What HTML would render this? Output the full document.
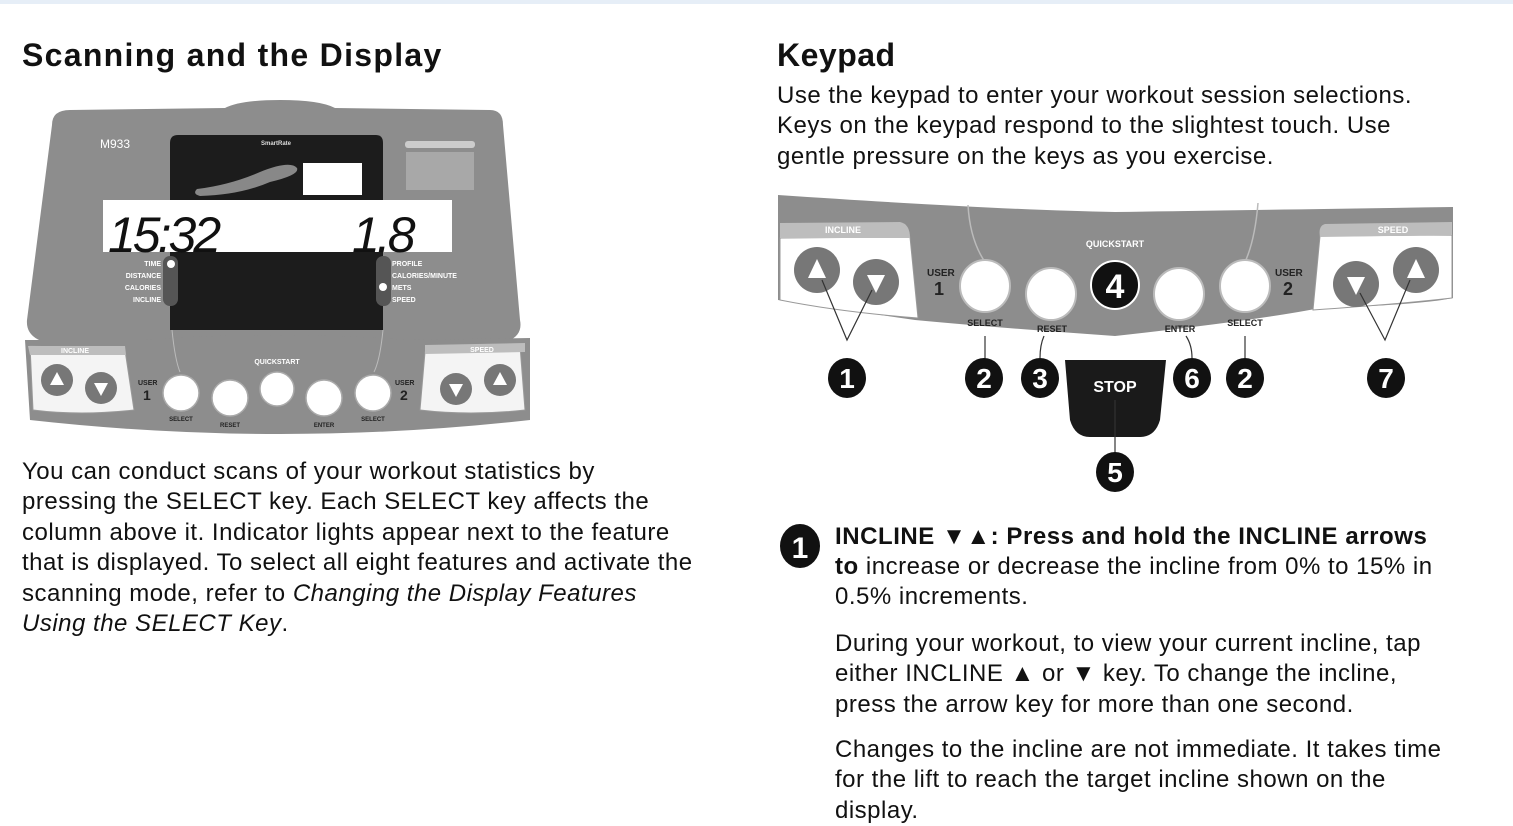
<!DOCTYPE html>
<html><head><meta charset="utf-8"><style>
*{margin:0;padding:0}
body{width:1513px;height:824px;background:#fff;position:relative;overflow:hidden;font-family:"Liberation Sans",sans-serif;color:#111}
.topbar{position:absolute;left:0;top:0;width:1513px;height:4px;background:#e6eef7}
h1{position:absolute;font-size:32px;font-weight:bold;letter-spacing:1.3px;line-height:36px}
.p{position:absolute;font-size:24px;line-height:30.4px;letter-spacing:0.5px;white-space:nowrap}
svg{position:absolute;left:0;top:0}
</style></head><body>
<div class="topbar"></div>
<h1 style="left:22px;top:37px">Scanning and the Display</h1>
<h1 style="left:777px;top:37px;letter-spacing:0.5px">Keypad</h1>
<div class="p" style="left:777px;top:81px">Use the keypad to enter your workout session selections.<br>Keys on the keypad respond to the slightest touch. Use<br>gentle pressure on the keys as you exercise.</div>
<div class="p" style="left:22px;top:457px">You can conduct scans of your workout statistics by<br>pressing the SELECT key. Each SELECT key affects the<br>column above it. Indicator lights appear next to the feature<br>that is displayed. To select all eight features and activate the<br>scanning mode, refer to <i>Changing the Display Features</i><br><i>Using the SELECT Key</i>.</div>
<div class="p" style="left:835px;top:522px;line-height:30px"><b style="letter-spacing:0.55px">INCLINE ▼▲: Press and hold the INCLINE arrows<br>to</b> increase or decrease the incline from 0% to 15% in</div>
<div class="p" style="left:835px;top:582px">0.5% increments.</div>
<div class="p" style="left:835px;top:629px">During your workout, to view your current incline, tap<br>either INCLINE ▲ or ▼ key. To change the incline,<br>press the arrow key for more than one second.</div>
<div class="p" style="left:835px;top:735px">Changes to the incline are not immediate. It takes time<br>for the lift to reach the target incline shown on the<br>display.</div>
<svg width="1513" height="824" viewBox="0 0 1513 824" font-family="Liberation Sans, sans-serif">
<ellipse cx="800" cy="546" rx="20" ry="22" fill="#111"/>
<text x="800" y="558" font-size="30" font-weight="bold" fill="#fff" text-anchor="middle">1</text>

<path d="M52 125 Q52 110 70 110 L225 108 Q240 100 280 100 Q320 100 335 108 L490 110 Q503 110 503 125 L520 320 Q525 345 480 345 L70 345 Q25 345 27 320 Z" fill="#8d8d8d"/>
<path d="M25 340 L140 340 Q275 330 410 340 L530 338 L530 420 Q280 448 30 420 Z" fill="#8d8d8d"/>
<path d="M30 346 L125 350 L134 410 Q80 416 33 410 Z" fill="#f4f4f4" stroke="#999"/>
<path d="M28 346 L125 346 L126 355 L30 355 Z" fill="#bdbdbd"/>
<path d="M425 352 L520 346 L525 410 Q470 416 420 410 Z" fill="#f4f4f4" stroke="#999"/>
<path d="M425 345 L525 343 L525 352 L425 354 Z" fill="#bdbdbd"/>
<text x="75" y="353" font-size="7" font-weight="bold" fill="#fff" text-anchor="middle">INCLINE</text>
<text x="482" y="352" font-size="7" font-weight="bold" fill="#fff" text-anchor="middle">SPEED</text>
<path d="M170 143 Q170 135 178 135 L376 135 Q383 135 383 143 L383 330 L170 330 Z" fill="#1c1c1c"/>
<text x="276" y="145" font-size="6" font-weight="bold" fill="#ddd" text-anchor="middle">SmartRate</text>
<rect x="303" y="163" width="59" height="32" fill="#fff"/>
<path d="M197 189 Q230 185 260 172 Q290 160 297 168 Q300 175 270 182 Q240 195 200 196 Q192 194 197 189Z" fill="#888"/>
<rect x="103" y="200" width="349" height="52" fill="#fff"/>
<text x="108" y="252" font-size="50" font-style="italic" fill="#111" letter-spacing="-3">15:32</text>
<text x="352" y="252" font-size="50" font-style="italic" fill="#111" letter-spacing="-3">1.8</text>
<rect x="163" y="256" width="15" height="50" rx="7" fill="#555"/>
<rect x="376" y="256" width="15" height="50" rx="7" fill="#555"/>
<circle cx="171" cy="264" r="4" fill="#fff"/><circle cx="383" cy="287" r="4" fill="#fff"/>
<g font-size="7" font-weight="bold" fill="#fff" text-anchor="end">
<text x="161" y="266">TIME</text><text x="161" y="278">DISTANCE</text><text x="161" y="290">CALORIES</text><text x="161" y="302">INCLINE</text></g>
<g font-size="7" font-weight="bold" fill="#fff">
<text x="392" y="266">PROFILE</text><text x="392" y="278">CALORIES/MINUTE</text><text x="392" y="290">METS</text><text x="392" y="302">SPEED</text></g>
<text x="100" y="148" font-size="12" fill="#fff">M933</text>
<rect x="405" y="141" width="70" height="7" rx="3" fill="#ccc"/>
<rect x="406" y="152" width="68" height="38" fill="#a8a8a8"/>
<path d="M172 330 Q175 360 180 372 M383 330 Q380 360 374 372" stroke="#bbb" fill="none"/>
<text x="277" y="364" font-size="7" font-weight="bold" fill="#fff" text-anchor="middle">QUICKSTART</text>
<g fill="#fff" stroke="#aaa" stroke-width="1.5">
<circle cx="181" cy="393" r="18"/><circle cx="230" cy="398" r="18"/><circle cx="277" cy="389" r="17"/><circle cx="324" cy="398" r="18"/><circle cx="373" cy="393" r="18"/></g>
<g fill="#777"><circle cx="57" cy="380" r="16"/><circle cx="101" cy="388" r="16"/><circle cx="456" cy="389" r="16"/><circle cx="500" cy="380" r="16"/></g>
<g fill="#fff"><path d="M57 372 L64 385 L50 385Z"/><path d="M101 396 L108 383 L94 383Z"/><path d="M456 397 L463 384 L449 384Z"/><path d="M500 372 L507 385 L493 385Z"/></g>
<g font-weight="bold" fill="#222"><text x="138" y="385" font-size="7">USER</text><text x="143" y="400" font-size="14">1</text>
<text x="395" y="385" font-size="7">USER</text><text x="400" y="400" font-size="14">2</text></g>
<g font-size="6" font-weight="bold" fill="#222" text-anchor="middle"><text x="181" y="421">SELECT</text><text x="230" y="427">RESET</text><text x="324" y="427">ENTER</text><text x="373" y="421">SELECT</text></g>

<path d="M778 195 Q1000 210 1115 212 Q1250 210 1453 207 L1453 298 Q1420 305 1320 308 Q1260 320 1115 336 Q1000 328 915 320 L778 300 Z" fill="#8d8d8d"/>
<path d="M780 238 L910 237 L918 318 Q840 312 780 300 Z" fill="#fff" stroke="#999"/>
<path d="M780 223 L900 222 Q910 224 910 238 L780 238 Z" fill="#bdbdbd"/>
<path d="M1320 236 L1452 235 L1452 298 Q1400 304 1313 310 Z" fill="#fff" stroke="#999"/>
<path d="M1325 224 L1452 222 L1452 235 L1320 237 Q1318 226 1325 224Z" fill="#bdbdbd"/>
<text x="843" y="233" font-size="9" font-weight="bold" fill="#fff" text-anchor="middle">INCLINE</text>
<text x="1393" y="233" font-size="9" font-weight="bold" fill="#fff" text-anchor="middle">SPEED</text>
<text x="1115" y="247" font-size="9" font-weight="bold" fill="#fff" text-anchor="middle">QUICKSTART</text>
<path d="M968 205 Q970 240 985 262 M1258 203 Q1255 240 1245 262" stroke="#bbb" fill="none" stroke-width="1.5"/>
<g fill="#fff" stroke="#bbb" stroke-width="2">
<ellipse cx="985" cy="286" rx="25" ry="26"/><ellipse cx="1051" cy="294" rx="25" ry="26"/><ellipse cx="1179" cy="294" rx="25" ry="26"/><ellipse cx="1245" cy="286" rx="25" ry="26"/></g>
<ellipse cx="1115" cy="285" rx="24" ry="24" fill="#111" stroke="#fff" stroke-width="2"/>
<text x="1115" y="298" font-size="34" font-weight="bold" fill="#fff" text-anchor="middle">4</text>
<g fill="#777"><circle cx="817" cy="270" r="23"/><circle cx="876" cy="282" r="23"/><circle cx="1356" cy="284" r="23"/><circle cx="1416" cy="270" r="23"/></g>
<g fill="#fff"><path d="M817 259 L826 278 L808 278Z"/><path d="M876 293 L885 275 L867 275Z"/><path d="M1356 295 L1365 277 L1347 277Z"/><path d="M1416 259 L1425 278 L1407 278Z"/></g>
<g font-weight="bold" fill="#222"><text x="927" y="276" font-size="10">USER</text><text x="934" y="295" font-size="18">1</text>
<text x="1275" y="276" font-size="10">USER</text><text x="1283" y="295" font-size="18">2</text></g>
<g font-size="9" font-weight="bold" fill="#222" text-anchor="middle"><text x="985" y="326">SELECT</text><text x="1052" y="332">RESET</text><text x="1180" y="332">ENTER</text><text x="1245" y="326">SELECT</text></g>
<path d="M1065 360 L1166 360 L1160 420 Q1155 437 1140 437 L1090 437 Q1075 437 1070 420 Z" fill="#1a1a1a"/>
<text x="1115" y="392" font-size="16" font-weight="bold" fill="#fff" text-anchor="middle">STOP</text>
<g stroke="#333" fill="none" stroke-width="1.2">
<path d="M822 280 L847 340 L872 290"/><path d="M1360 293 L1385 340 L1410 280"/>
<path d="M985 336 L985 360"/><path d="M1044 336 Q1040 345 1040 358"/><path d="M1186 336 Q1192 345 1192 358"/><path d="M1245 336 L1245 358"/><path d="M1115 400 L1115 455"/></g>
<g fill="#111">
<ellipse cx="847" cy="378" rx="19" ry="20"/><ellipse cx="984" cy="378" rx="19" ry="20"/><ellipse cx="1040" cy="378" rx="19" ry="20"/><ellipse cx="1192" cy="378" rx="19" ry="20"/><ellipse cx="1245" cy="378" rx="19" ry="20"/><ellipse cx="1386" cy="378" rx="19" ry="20"/><ellipse cx="1115" cy="472" rx="19" ry="20"/></g>
<g font-size="28" font-weight="bold" fill="#fff" text-anchor="middle">
<text x="847" y="388">1</text><text x="984" y="388">2</text><text x="1040" y="388">3</text><text x="1192" y="388">6</text><text x="1245" y="388">2</text><text x="1386" y="388">7</text><text x="1115" y="482">5</text></g>
</svg>
</body></html>
